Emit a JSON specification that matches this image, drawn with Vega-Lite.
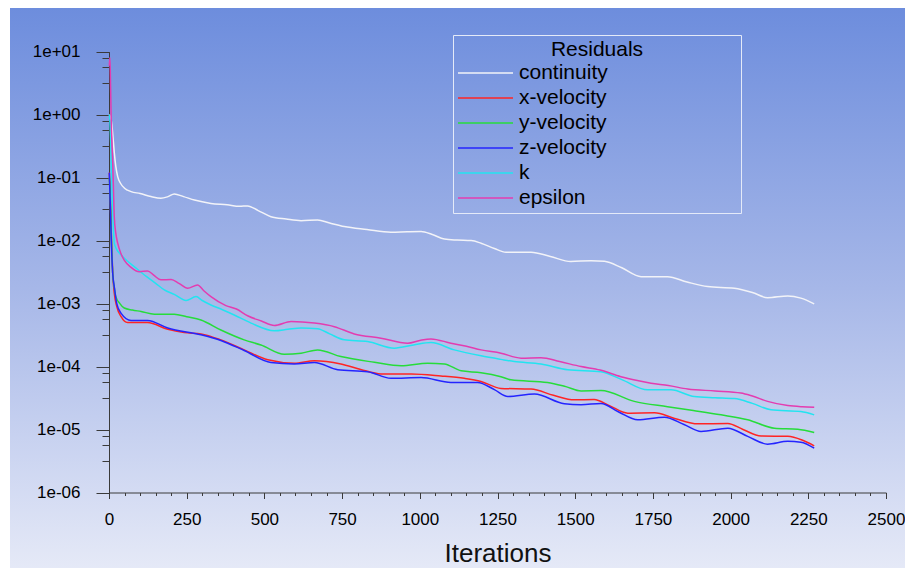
{
  "$schema": "https://vega.github.io/schema/vega-lite/v6.json",
  "width": 895,
  "height": 560,
  "autosize": {"type": "none"},
  "padding": {"left": 10, "top": 8, "right": 0, "bottom": 0},
  "background": "#ffffff",
  "config": {
    "view": {
      "stroke": null,
      "fill": {
        "gradient": "linear",
        "x1": 0, "y1": 0, "x2": 0, "y2": 1,
        "stops": [
          {"offset": 0, "color": "#6d8ddd"},
          {"offset": 0.5, "color": "#a6b7e8"},
          {"offset": 1, "color": "#e5e9f7"}
        ]
      }
    },
    "font": "Liberation Sans"
  },
  "data": {
    "values": [
      {"equation": "continuity", "iteration": 1, "residual": 1.0},
      {"equation": "continuity", "iteration": 5, "residual": 0.9},
      {"equation": "continuity", "iteration": 9, "residual": 0.7},
      {"equation": "continuity", "iteration": 13, "residual": 0.43},
      {"equation": "continuity", "iteration": 17, "residual": 0.25},
      {"equation": "continuity", "iteration": 22, "residual": 0.15},
      {"equation": "continuity", "iteration": 28, "residual": 0.104},
      {"equation": "continuity", "iteration": 38, "residual": 0.08},
      {"equation": "continuity", "iteration": 50, "residual": 0.068},
      {"equation": "continuity", "iteration": 71, "residual": 0.06},
      {"equation": "continuity", "iteration": 100, "residual": 0.056},
      {"equation": "continuity", "iteration": 135, "residual": 0.05},
      {"equation": "continuity", "iteration": 167, "residual": 0.047},
      {"equation": "continuity", "iteration": 190, "residual": 0.05},
      {"equation": "continuity", "iteration": 210, "residual": 0.055},
      {"equation": "continuity", "iteration": 240, "residual": 0.05},
      {"equation": "continuity", "iteration": 275, "residual": 0.044},
      {"equation": "continuity", "iteration": 328, "residual": 0.039},
      {"equation": "continuity", "iteration": 380, "residual": 0.037},
      {"equation": "continuity", "iteration": 420, "residual": 0.035},
      {"equation": "continuity", "iteration": 446, "residual": 0.0356},
      {"equation": "continuity", "iteration": 480, "residual": 0.03},
      {"equation": "continuity", "iteration": 521, "residual": 0.024},
      {"equation": "continuity", "iteration": 570, "residual": 0.022},
      {"equation": "continuity", "iteration": 618, "residual": 0.0207},
      {"equation": "continuity", "iteration": 671, "residual": 0.0213},
      {"equation": "continuity", "iteration": 710, "residual": 0.019},
      {"equation": "continuity", "iteration": 757, "residual": 0.0167},
      {"equation": "continuity", "iteration": 830, "residual": 0.015},
      {"equation": "continuity", "iteration": 907, "residual": 0.0136},
      {"equation": "continuity", "iteration": 960, "residual": 0.0138},
      {"equation": "continuity", "iteration": 1004, "residual": 0.0139},
      {"equation": "continuity", "iteration": 1040, "residual": 0.0125},
      {"equation": "continuity", "iteration": 1079, "residual": 0.0106},
      {"equation": "continuity", "iteration": 1120, "residual": 0.0102},
      {"equation": "continuity", "iteration": 1165, "residual": 0.01},
      {"equation": "continuity", "iteration": 1197, "residual": 0.0091},
      {"equation": "continuity", "iteration": 1240, "residual": 0.0075},
      {"equation": "continuity", "iteration": 1277, "residual": 0.00655},
      {"equation": "continuity", "iteration": 1358, "residual": 0.00655},
      {"equation": "continuity", "iteration": 1420, "residual": 0.0056},
      {"equation": "continuity", "iteration": 1486, "residual": 0.00465},
      {"equation": "continuity", "iteration": 1551, "residual": 0.0048},
      {"equation": "continuity", "iteration": 1594, "residual": 0.0047},
      {"equation": "continuity", "iteration": 1650, "residual": 0.0037},
      {"equation": "continuity", "iteration": 1712, "residual": 0.00268},
      {"equation": "continuity", "iteration": 1797, "residual": 0.00268},
      {"equation": "continuity", "iteration": 1860, "residual": 0.0022},
      {"equation": "continuity", "iteration": 1926, "residual": 0.00186},
      {"equation": "continuity", "iteration": 2012, "residual": 0.00175},
      {"equation": "continuity", "iteration": 2070, "residual": 0.0015},
      {"equation": "continuity", "iteration": 2119, "residual": 0.00124},
      {"equation": "continuity", "iteration": 2184, "residual": 0.00132},
      {"equation": "continuity", "iteration": 2226, "residual": 0.00122},
      {"equation": "continuity", "iteration": 2269, "residual": 0.00099},

      {"equation": "x-velocity", "iteration": 1, "residual": 0.12},
      {"equation": "x-velocity", "iteration": 4, "residual": 0.05},
      {"equation": "x-velocity", "iteration": 8, "residual": 0.01},
      {"equation": "x-velocity", "iteration": 12, "residual": 0.003},
      {"equation": "x-velocity", "iteration": 17, "residual": 0.00146},
      {"equation": "x-velocity", "iteration": 25, "residual": 0.0009},
      {"equation": "x-velocity", "iteration": 39, "residual": 0.00062},
      {"equation": "x-velocity", "iteration": 60, "residual": 0.0005},
      {"equation": "x-velocity", "iteration": 124, "residual": 0.0005},
      {"equation": "x-velocity", "iteration": 189, "residual": 0.00039},
      {"equation": "x-velocity", "iteration": 242, "residual": 0.000347},
      {"equation": "x-velocity", "iteration": 296, "residual": 0.00033},
      {"equation": "x-velocity", "iteration": 360, "residual": 0.000265},
      {"equation": "x-velocity", "iteration": 435, "residual": 0.000184},
      {"equation": "x-velocity", "iteration": 511, "residual": 0.000128},
      {"equation": "x-velocity", "iteration": 596, "residual": 0.000113},
      {"equation": "x-velocity", "iteration": 661, "residual": 0.000124},
      {"equation": "x-velocity", "iteration": 746, "residual": 0.00011},
      {"equation": "x-velocity", "iteration": 810, "residual": 0.00009},
      {"equation": "x-velocity", "iteration": 875, "residual": 0.0000765},
      {"equation": "x-velocity", "iteration": 972, "residual": 0.0000765},
      {"equation": "x-velocity", "iteration": 1068, "residual": 0.000071},
      {"equation": "x-velocity", "iteration": 1143, "residual": 0.000065},
      {"equation": "x-velocity", "iteration": 1197, "residual": 0.000058},
      {"equation": "x-velocity", "iteration": 1261, "residual": 0.000045},
      {"equation": "x-velocity", "iteration": 1358, "residual": 0.000044},
      {"equation": "x-velocity", "iteration": 1430, "residual": 0.000035},
      {"equation": "x-velocity", "iteration": 1497, "residual": 0.0000296},
      {"equation": "x-velocity", "iteration": 1561, "residual": 0.00003},
      {"equation": "x-velocity", "iteration": 1610, "residual": 0.000024},
      {"equation": "x-velocity", "iteration": 1669, "residual": 0.0000182},
      {"equation": "x-velocity", "iteration": 1755, "residual": 0.0000184},
      {"equation": "x-velocity", "iteration": 1820, "residual": 0.000015},
      {"equation": "x-velocity", "iteration": 1894, "residual": 0.0000123},
      {"equation": "x-velocity", "iteration": 1991, "residual": 0.0000125},
      {"equation": "x-velocity", "iteration": 2040, "residual": 0.00001},
      {"equation": "x-velocity", "iteration": 2098, "residual": 0.0000079},
      {"equation": "x-velocity", "iteration": 2184, "residual": 0.0000078},
      {"equation": "x-velocity", "iteration": 2230, "residual": 0.0000068},
      {"equation": "x-velocity", "iteration": 2269, "residual": 0.0000055},

      {"equation": "y-velocity", "iteration": 1, "residual": 0.1},
      {"equation": "y-velocity", "iteration": 4, "residual": 0.05},
      {"equation": "y-velocity", "iteration": 8, "residual": 0.01},
      {"equation": "y-velocity", "iteration": 12, "residual": 0.003},
      {"equation": "y-velocity", "iteration": 17, "residual": 0.0018},
      {"equation": "y-velocity", "iteration": 22, "residual": 0.00129},
      {"equation": "y-velocity", "iteration": 35, "residual": 0.001},
      {"equation": "y-velocity", "iteration": 49, "residual": 0.00085},
      {"equation": "y-velocity", "iteration": 75, "residual": 0.00079},
      {"equation": "y-velocity", "iteration": 103, "residual": 0.00075},
      {"equation": "y-velocity", "iteration": 146, "residual": 0.00068},
      {"equation": "y-velocity", "iteration": 210, "residual": 0.00068},
      {"equation": "y-velocity", "iteration": 250, "residual": 0.00062},
      {"equation": "y-velocity", "iteration": 296, "residual": 0.00055},
      {"equation": "y-velocity", "iteration": 360, "residual": 0.00038},
      {"equation": "y-velocity", "iteration": 435, "residual": 0.000265},
      {"equation": "y-velocity", "iteration": 489, "residual": 0.00022},
      {"equation": "y-velocity", "iteration": 564, "residual": 0.000157},
      {"equation": "y-velocity", "iteration": 618, "residual": 0.000163},
      {"equation": "y-velocity", "iteration": 671, "residual": 0.000184},
      {"equation": "y-velocity", "iteration": 746, "residual": 0.000144},
      {"equation": "y-velocity", "iteration": 854, "residual": 0.000117},
      {"equation": "y-velocity", "iteration": 940, "residual": 0.000103},
      {"equation": "y-velocity", "iteration": 1025, "residual": 0.000113},
      {"equation": "y-velocity", "iteration": 1079, "residual": 0.00011},
      {"equation": "y-velocity", "iteration": 1133, "residual": 0.0000855},
      {"equation": "y-velocity", "iteration": 1197, "residual": 0.00008},
      {"equation": "y-velocity", "iteration": 1261, "residual": 0.000069},
      {"equation": "y-velocity", "iteration": 1293, "residual": 0.0000615},
      {"equation": "y-velocity", "iteration": 1411, "residual": 0.000056},
      {"equation": "y-velocity", "iteration": 1470, "residual": 0.000048},
      {"equation": "y-velocity", "iteration": 1519, "residual": 0.000041},
      {"equation": "y-velocity", "iteration": 1583, "residual": 0.0000415},
      {"equation": "y-velocity", "iteration": 1690, "residual": 0.000028},
      {"equation": "y-velocity", "iteration": 1797, "residual": 0.000023},
      {"equation": "y-velocity", "iteration": 1880, "residual": 0.00002},
      {"equation": "y-velocity", "iteration": 1969, "residual": 0.0000171},
      {"equation": "y-velocity", "iteration": 2055, "residual": 0.0000143},
      {"equation": "y-velocity", "iteration": 2141, "residual": 0.0000105},
      {"equation": "y-velocity", "iteration": 2216, "residual": 0.0000101},
      {"equation": "y-velocity", "iteration": 2269, "residual": 0.00000895},

      {"equation": "z-velocity", "iteration": 1, "residual": 0.12},
      {"equation": "z-velocity", "iteration": 4, "residual": 0.04},
      {"equation": "z-velocity", "iteration": 8, "residual": 0.008},
      {"equation": "z-velocity", "iteration": 12, "residual": 0.003},
      {"equation": "z-velocity", "iteration": 17, "residual": 0.00186},
      {"equation": "z-velocity", "iteration": 25, "residual": 0.001},
      {"equation": "z-velocity", "iteration": 39, "residual": 0.0007},
      {"equation": "z-velocity", "iteration": 71, "residual": 0.00054},
      {"equation": "z-velocity", "iteration": 124, "residual": 0.00054},
      {"equation": "z-velocity", "iteration": 189, "residual": 0.00041},
      {"equation": "z-velocity", "iteration": 296, "residual": 0.00032},
      {"equation": "z-velocity", "iteration": 360, "residual": 0.00026},
      {"equation": "z-velocity", "iteration": 435, "residual": 0.00018},
      {"equation": "z-velocity", "iteration": 521, "residual": 0.000116},
      {"equation": "z-velocity", "iteration": 596, "residual": 0.00011},
      {"equation": "z-velocity", "iteration": 661, "residual": 0.000116},
      {"equation": "z-velocity", "iteration": 736, "residual": 0.000089},
      {"equation": "z-velocity", "iteration": 832, "residual": 0.000083},
      {"equation": "z-velocity", "iteration": 907, "residual": 0.000065},
      {"equation": "z-velocity", "iteration": 1004, "residual": 0.000067},
      {"equation": "z-velocity", "iteration": 1100, "residual": 0.000056},
      {"equation": "z-velocity", "iteration": 1186, "residual": 0.000056},
      {"equation": "z-velocity", "iteration": 1240, "residual": 0.000043},
      {"equation": "z-velocity", "iteration": 1283, "residual": 0.0000334},
      {"equation": "z-velocity", "iteration": 1369, "residual": 0.0000365},
      {"equation": "z-velocity", "iteration": 1465, "residual": 0.0000256},
      {"equation": "z-velocity", "iteration": 1519, "residual": 0.0000247},
      {"equation": "z-velocity", "iteration": 1583, "residual": 0.000026},
      {"equation": "z-velocity", "iteration": 1640, "residual": 0.000019},
      {"equation": "z-velocity", "iteration": 1701, "residual": 0.0000143},
      {"equation": "z-velocity", "iteration": 1787, "residual": 0.0000157},
      {"equation": "z-velocity", "iteration": 1850, "residual": 0.000012},
      {"equation": "z-velocity", "iteration": 1905, "residual": 0.0000093},
      {"equation": "z-velocity", "iteration": 1991, "residual": 0.0000105},
      {"equation": "z-velocity", "iteration": 2055, "residual": 0.0000078},
      {"equation": "z-velocity", "iteration": 2119, "residual": 0.00000586},
      {"equation": "z-velocity", "iteration": 2184, "residual": 0.0000065},
      {"equation": "z-velocity", "iteration": 2226, "residual": 0.0000063},
      {"equation": "z-velocity", "iteration": 2269, "residual": 0.00000507},

      {"equation": "k", "iteration": 1, "residual": 1.0},
      {"equation": "k", "iteration": 3, "residual": 0.8},
      {"equation": "k", "iteration": 6, "residual": 0.3},
      {"equation": "k", "iteration": 9, "residual": 0.08},
      {"equation": "k", "iteration": 12, "residual": 0.03},
      {"equation": "k", "iteration": 17, "residual": 0.0091},
      {"equation": "k", "iteration": 25, "residual": 0.0072},
      {"equation": "k", "iteration": 39, "residual": 0.0059},
      {"equation": "k", "iteration": 60, "residual": 0.0047},
      {"equation": "k", "iteration": 81, "residual": 0.00387},
      {"equation": "k", "iteration": 120, "residual": 0.0027},
      {"equation": "k", "iteration": 150, "residual": 0.0021},
      {"equation": "k", "iteration": 178, "residual": 0.00165},
      {"equation": "k", "iteration": 210, "residual": 0.0014},
      {"equation": "k", "iteration": 248, "residual": 0.00112},
      {"equation": "k", "iteration": 280, "residual": 0.00129},
      {"equation": "k", "iteration": 300, "residual": 0.00112},
      {"equation": "k", "iteration": 328, "residual": 0.00095},
      {"equation": "k", "iteration": 365, "residual": 0.0008},
      {"equation": "k", "iteration": 403, "residual": 0.00066},
      {"equation": "k", "iteration": 457, "residual": 0.00049},
      {"equation": "k", "iteration": 532, "residual": 0.00037},
      {"equation": "k", "iteration": 575, "residual": 0.00039},
      {"equation": "k", "iteration": 618, "residual": 0.00041},
      {"equation": "k", "iteration": 671, "residual": 0.0004},
      {"equation": "k", "iteration": 710, "residual": 0.00033},
      {"equation": "k", "iteration": 757, "residual": 0.000266},
      {"equation": "k", "iteration": 832, "residual": 0.00025},
      {"equation": "k", "iteration": 918, "residual": 0.000196},
      {"equation": "k", "iteration": 980, "residual": 0.00022},
      {"equation": "k", "iteration": 1036, "residual": 0.00024},
      {"equation": "k", "iteration": 1111, "residual": 0.000184},
      {"equation": "k", "iteration": 1197, "residual": 0.000148},
      {"equation": "k", "iteration": 1261, "residual": 0.00013},
      {"equation": "k", "iteration": 1304, "residual": 0.00012},
      {"equation": "k", "iteration": 1390, "residual": 0.00011},
      {"equation": "k", "iteration": 1476, "residual": 0.000089},
      {"equation": "k", "iteration": 1583, "residual": 0.000083},
      {"equation": "k", "iteration": 1650, "residual": 0.000062},
      {"equation": "k", "iteration": 1733, "residual": 0.0000427},
      {"equation": "k", "iteration": 1808, "residual": 0.0000427},
      {"equation": "k", "iteration": 1883, "residual": 0.0000334},
      {"equation": "k", "iteration": 1950, "residual": 0.000032},
      {"equation": "k", "iteration": 2012, "residual": 0.000031},
      {"equation": "k", "iteration": 2070, "residual": 0.000026},
      {"equation": "k", "iteration": 2130, "residual": 0.0000206},
      {"equation": "k", "iteration": 2226, "residual": 0.0000193},
      {"equation": "k", "iteration": 2269, "residual": 0.0000171},

      {"equation": "epsilon", "iteration": 1, "residual": 6},
      {"equation": "epsilon", "iteration": 3, "residual": 8},
      {"equation": "epsilon", "iteration": 5, "residual": 3},
      {"equation": "epsilon", "iteration": 7, "residual": 0.9},
      {"equation": "epsilon", "iteration": 10, "residual": 0.3},
      {"equation": "epsilon", "iteration": 12, "residual": 0.17},
      {"equation": "epsilon", "iteration": 15, "residual": 0.05},
      {"equation": "epsilon", "iteration": 17, "residual": 0.024},
      {"equation": "epsilon", "iteration": 22, "residual": 0.013},
      {"equation": "epsilon", "iteration": 28, "residual": 0.0091},
      {"equation": "epsilon", "iteration": 38, "residual": 0.0063},
      {"equation": "epsilon", "iteration": 49, "residual": 0.0049},
      {"equation": "epsilon", "iteration": 70, "residual": 0.0038},
      {"equation": "epsilon", "iteration": 98, "residual": 0.0032},
      {"equation": "epsilon", "iteration": 124, "residual": 0.0033},
      {"equation": "epsilon", "iteration": 145, "residual": 0.0028},
      {"equation": "epsilon", "iteration": 167, "residual": 0.00238},
      {"equation": "epsilon", "iteration": 200, "residual": 0.00242},
      {"equation": "epsilon", "iteration": 225, "residual": 0.0021},
      {"equation": "epsilon", "iteration": 253, "residual": 0.00175},
      {"equation": "epsilon", "iteration": 285, "residual": 0.00197},
      {"equation": "epsilon", "iteration": 305, "residual": 0.0016},
      {"equation": "epsilon", "iteration": 328, "residual": 0.00129},
      {"equation": "epsilon", "iteration": 376, "residual": 0.00093},
      {"equation": "epsilon", "iteration": 410, "residual": 0.00082},
      {"equation": "epsilon", "iteration": 446, "residual": 0.00064},
      {"equation": "epsilon", "iteration": 490, "residual": 0.00053},
      {"equation": "epsilon", "iteration": 532, "residual": 0.00045},
      {"equation": "epsilon", "iteration": 586, "residual": 0.00052},
      {"equation": "epsilon", "iteration": 661, "residual": 0.00049},
      {"equation": "epsilon", "iteration": 725, "residual": 0.00043},
      {"equation": "epsilon", "iteration": 789, "residual": 0.00033},
      {"equation": "epsilon", "iteration": 875, "residual": 0.000282},
      {"equation": "epsilon", "iteration": 961, "residual": 0.000235},
      {"equation": "epsilon", "iteration": 1000, "residual": 0.00026},
      {"equation": "epsilon", "iteration": 1036, "residual": 0.000275},
      {"equation": "epsilon", "iteration": 1100, "residual": 0.000235},
      {"equation": "epsilon", "iteration": 1150, "residual": 0.00021},
      {"equation": "epsilon", "iteration": 1197, "residual": 0.000184},
      {"equation": "epsilon", "iteration": 1261, "residual": 0.000163},
      {"equation": "epsilon", "iteration": 1326, "residual": 0.000136},
      {"equation": "epsilon", "iteration": 1390, "residual": 0.000138},
      {"equation": "epsilon", "iteration": 1450, "residual": 0.00012},
      {"equation": "epsilon", "iteration": 1519, "residual": 0.0001},
      {"equation": "epsilon", "iteration": 1580, "residual": 0.000088},
      {"equation": "epsilon", "iteration": 1647, "residual": 0.000069},
      {"equation": "epsilon", "iteration": 1700, "residual": 0.00006},
      {"equation": "epsilon", "iteration": 1744, "residual": 0.0000545},
      {"equation": "epsilon", "iteration": 1800, "residual": 0.00005},
      {"equation": "epsilon", "iteration": 1862, "residual": 0.000044},
      {"equation": "epsilon", "iteration": 1950, "residual": 0.000041},
      {"equation": "epsilon", "iteration": 2033, "residual": 0.000038},
      {"equation": "epsilon", "iteration": 2070, "residual": 0.000034},
      {"equation": "epsilon", "iteration": 2119, "residual": 0.000028},
      {"equation": "epsilon", "iteration": 2184, "residual": 0.000024},
      {"equation": "epsilon", "iteration": 2230, "residual": 0.000023},
      {"equation": "epsilon", "iteration": 2269, "residual": 0.0000226}
    ]
  },
  "mark": {"type": "line", "strokeWidth": 1.5, "interpolate": "monotone"},
  "encoding": {
    "x": {
      "field": "iteration",
      "type": "quantitative",
      "scale": {"domain": [0, 2500], "range": [99, 876], "nice": false, "zero": false},
      "axis": {
        "title": "Iterations",
        "offset": -75.5,
        "values": [0, 50, 100, 150, 200, 250, 300, 350, 400, 450, 500, 550, 600, 650, 700, 750, 800, 850, 900, 950, 1000, 1050, 1100, 1150, 1200, 1250, 1300, 1350, 1400, 1450, 1500, 1550, 1600, 1650, 1700, 1750, 1800, 1850, 1900, 1950, 2000, 2050, 2100, 2150, 2200, 2250, 2300, 2350, 2400, 2450, 2500],
        "format": "d",
        "labelExpr": "datum.value % 250 === 0 ? datum.label : ''",
        "tickSize": {"expr": "datum.value % 250 === 0 ? 6 : 3"},
        "grid": false,
        "domainColor": "#3a3a3a",
        "tickColor": "#3a3a3a",
        "labelFont": "Liberation Sans",
        "labelFontSize": 17,
        "labelColor": "#000000",
        "labelPadding": 13,
        "labelOverlap": false,
        "labelFlush": false,
        "titleFont": "Liberation Sans",
        "titleFontSize": 26,
        "titleFontWeight": "normal",
        "titleColor": "#111111",
        "titlePadding": 13
      }
    },
    "y": {
      "field": "residual",
      "type": "quantitative",
      "scale": {"type": "log", "domain": [0.000001, 10], "range": [484.5, 43.7], "nice": false},
      "axis": {
        "title": null,
        "offset": -99,
        "values": [0.000001, 0.0000031623, 0.0000056234, 0.0000079433, 0.00001, 0.000031623, 0.000056234, 0.000079433, 0.0001, 0.00031623, 0.00056234, 0.00079433, 0.001, 0.0031623, 0.0056234, 0.0079433, 0.01, 0.031623, 0.056234, 0.079433, 0.1, 0.31623, 0.56234, 0.79433, 1, 3.1623, 5.6234, 7.9433, 10],
        "labelExpr": "abs(log(datum.value) / LN10 - round(log(datum.value) / LN10)) < 0.001 ? '1e' + (round(log(datum.value) / LN10) < 0 ? '-' : '+') + '0' + abs(round(log(datum.value) / LN10)) : ''",
        "tickSize": {"expr": "abs(log(datum.value) / LN10 - round(log(datum.value) / LN10)) < 0.001 ? 13 : 7"},
        "grid": false,
        "domainColor": "#3a3a3a",
        "tickColor": "#3a3a3a",
        "labelFont": "Liberation Sans",
        "labelFontSize": 17,
        "labelColor": "#000000",
        "labelPadding": 16,
        "labelOverlap": false,
        "labelFlush": false
      }
    },
    "color": {
      "field": "equation",
      "type": "nominal",
      "sort": ["continuity", "x-velocity", "y-velocity", "z-velocity", "k", "epsilon"],
      "scale": {
        "domain": ["continuity", "x-velocity", "y-velocity", "z-velocity", "k", "epsilon"],
        "range": ["#f2f3f8", "#ff2424", "#26dc3a", "#2424ff", "#22e4f0", "#e43cb0"]
      },
      "legend": {
        "orient": "none",
        "legendX": 443,
        "legendY": 27,
        "title": "Residuals",
        "titleAnchor": "middle",
        "titleAlign": "center",
        "titleFont": "Liberation Sans",
        "titleFontSize": 21,
        "titleFontWeight": "normal",
        "titleColor": "#000000",
        "titlePadding": 2,
        "labelExpr": "datum.label + '\u00a0\u00a0\u00a0\u00a0\u00a0\u00a0\u00a0\u00a0\u00a0\u00a0\u00a0\u00a0\u00a0\u00a0\u00a0\u00a0\u00a0\u00a0\u00a0\u00a0\u00a0\u00a0\u200b'",
        "labelFont": "Liberation Sans",
        "labelFontSize": 21,
        "labelColor": "#000000",
        "labelOffset": 5,
        "labelLimit": 400,
        "symbolType": "stroke",
        "symbolSize": 3025,
        "symbolStrokeWidth": 1.5,
        "clipHeight": 22,
        "padding": 4,
        "rowPadding": 3,
        "strokeColor": "#e4eaf8"
      }
    },
    "order": {"field": "iteration", "type": "quantitative"}
  }
}
